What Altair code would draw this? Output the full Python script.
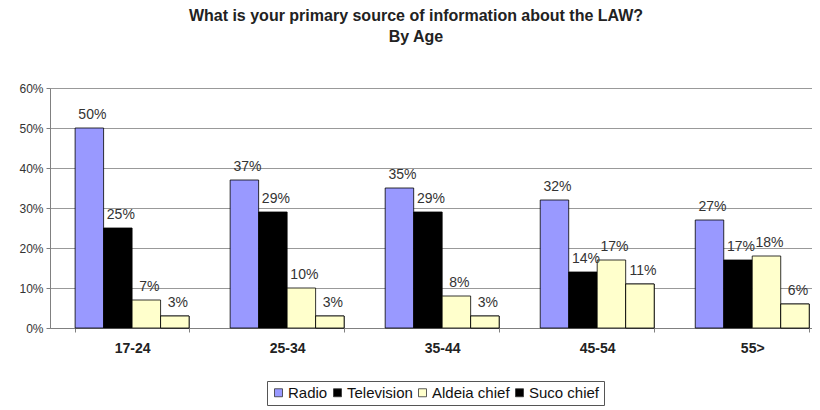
import altair as alt
import pandas as pd

ages = ["17-24", "25-34", "35-44", "45-54", "55>"]
series = ["Radio", "Television", "Aldeia chief", "Suco chief"]
radio = [50, 37, 35, 32, 27]
television = [25, 29, 29, 14, 17]
aldeia = [7, 10, 8, 17, 18]
suco = [3, 3, 3, 11, 6]

legend_colors = ["#9999FF", "#000000", "#FFFFCC", "#000000"]
suco_bar_color = "#FFFFCC"

rows = []
for i, a in enumerate(ages):
    for s, vals in zip(series, [radio, television, aldeia, suco]):
        rows.append({"age": a, "source": s, "value": vals[i] / 100})
df = pd.DataFrame(rows)

FONT = "Liberation Sans"

x = alt.X("age:N", sort=ages, title=None,
          scale=alt.Scale(paddingInner=0.265, paddingOuter=0.09, align=0.9),
          axis=alt.Axis(labelFont=FONT, labelFontWeight="bold", labelFontSize=14,
                        labelColor="#222", labelAngle=0, labelPadding=9,
                        domainColor="#808080", tickColor="#808080", tickBand="extent",
                        tickSize=4, grid=False))
xo = alt.XOffset("source:N", scale=alt.Scale(domain=series, paddingInner=0, paddingOuter=0))
y = alt.Y("value:Q", title=None,
          scale=alt.Scale(domain=[0, 0.6], nice=False),
          axis=alt.Axis(format=".0%", values=[0, 0.1, 0.2, 0.3, 0.4, 0.5, 0.6],
                        labelFont=FONT, labelFontSize=12, labelColor="#333",
                        domainColor="#808080", tickColor="#808080", tickSize=4,
                        gridColor="#999999", gridWidth=1, labelPadding=3))

bars = alt.Chart(df).mark_bar(stroke="#000", strokeWidth=0.8).encode(
    x=x, xOffset=xo, y=y,
    color=alt.Color("source:N",
                    scale=alt.Scale(domain=series, range=legend_colors),
                    legend=alt.Legend(title=None, orient="none", direction="horizontal",
                                      legendX=217, legendY=293,
                                      symbolType="square", symbolSize=64,
                                      symbolStrokeColor="#333", symbolStrokeWidth=0.8,
                                      labelFont=FONT, labelFontSize=15, labelColor="#111",
                                      labelOffset=2, columnPadding=2,
                                      strokeColor="#555", padding=4,
                                      fillColor="white")),
)

suco_bars = alt.Chart(df).transform_filter(
    alt.datum.source == "Suco chief"
).mark_bar(fill=suco_bar_color, stroke="#000", strokeWidth=0.8).encode(
    x=x, xOffset=xo, y=y,
)

labels = alt.Chart(df).mark_text(
    baseline="bottom", dy=-6, dx=3, font=FONT, fontSize=14, color="#333"
).encode(x=x, xOffset=xo, y=y, text=alt.Text("value:Q", format=".0%"))

chart = alt.layer(bars, suco_bars, labels).properties(
    width=762, height=240,
    title=alt.TitleParams(
        ["What is your primary source of information about the LAW?", "By Age"],
        font=FONT, fontSize=16, fontWeight="bold", color="#222",
        anchor="middle", dx=-15, dy=-3, lineHeight=21, offset=34),
    autosize=alt.AutoSizeParams(type="none"),
    padding={"left": 42, "top": 80, "right": 0, "bottom": 82},
).configure_view(stroke=None).configure(background="white")

chart.save("out.html", embed_options={"renderer": "svg", "actions": False})
